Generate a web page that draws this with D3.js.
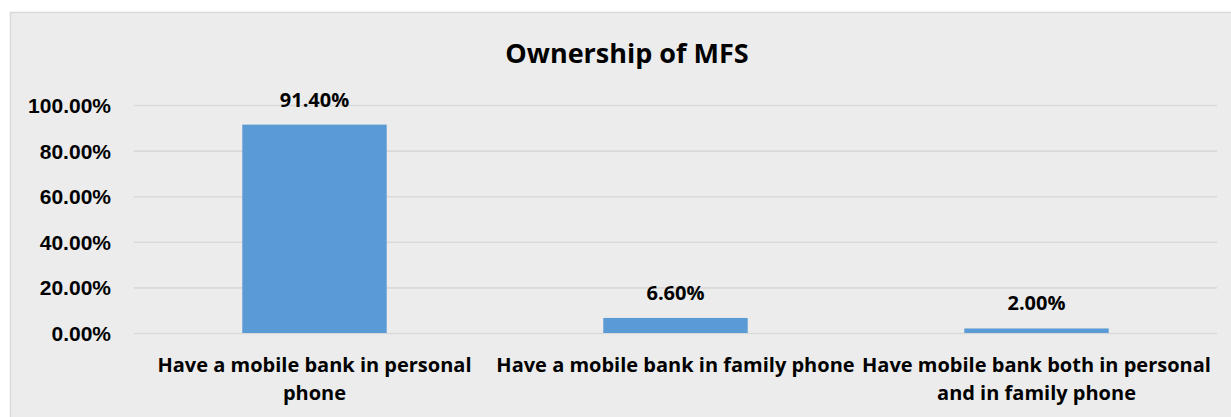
<!DOCTYPE html>
<html>
<head>
<meta charset="utf-8">
<script src="https://cdn.jsdelivr.net/npm/d3@7"></script>
<style>
  html, body { margin: 0; padding: 0; background: #ffffff; }
  svg { display: block; font-family: "Open Sans", "Liberation Sans", sans-serif; }
</style>
</head>
<body>
<svg id="chart" width="1231" height="417"></svg>
<script>
// Ownership of mobile financial services (share of respondents)
const title = "Ownership of MFS";
const categoryLines = [
  ["Have a mobile bank in personal", "phone"],
  ["Have a mobile bank in family phone"],
  ["Have mobile bank both in personal", "and in family phone"]
];
const categories = categoryLines.map(l => l.join(" "));
const values = [0.914, 0.066, 0.02];
const valueLabels = ["91.40%", "6.60%", "2.00%"];
const yTicks = [0, 0.2, 0.4, 0.6, 0.8, 1.0];

const svg = d3.select("#chart");
const W = 1231, H = 417;

// chart area panel
svg.append("rect")
  .attr("x", 10.5).attr("y", 12.5)
  .attr("width", W + 10).attr("height", H + 10)
  .attr("fill", "#ececec")
  .attr("stroke", "#d9d9d9")
  .attr("stroke-width", 1.5);

const plot = { left: 134, right: 1217, top: 105, bottom: 333 };

const x = d3.scaleBand()
  .domain(categories)
  .range([plot.left, plot.right])
  .paddingInner(0.6)
  .paddingOuter(0.3);

const y = d3.scaleLinear()
  .domain([0, 1])
  .range([plot.bottom, plot.top]);

// gridlines + tick labels
const yAxis = d3.axisLeft(y)
  .tickValues(yTicks)
  .tickSize(-(plot.right - plot.left))
  .tickPadding(23)
  .tickFormat(d => (d * 100).toFixed(2) + "%");

const gAxis = svg.append("g")
  .attr("transform", `translate(${plot.left},0)`)
  .call(yAxis);
gAxis.select(".domain").remove();
gAxis.selectAll(".tick line")
  .attr("stroke", "#d9d9d9")
  .attr("stroke-width", 1.6);
gAxis.selectAll(".tick text")
  .attr("fill", "#000")
  .attr("font-size", 21)
  .attr("font-weight", 700)
  .attr("dy", "0.36em");

// bars
svg.append("g").selectAll("rect")
  .data(values)
  .join("rect")
  .attr("x", (d, i) => x(categories[i]))
  .attr("y", d => y(d))
  .attr("width", x.bandwidth())
  .attr("height", d => y(0) - y(d))
  .attr("fill", "#5b9bd5");

// value labels
svg.append("g").selectAll("text")
  .data(values)
  .join("text")
  .attr("x", (d, i) => x(categories[i]) + x.bandwidth() / 2)
  .attr("y", d => y(d) - 18)
  .attr("text-anchor", "middle")
  .attr("font-size", 20)
  .attr("font-weight", 700)
  .attr("fill", "#000")
  .text((d, i) => valueLabels[i]);

// category labels
const cat = svg.append("g").selectAll("text")
  .data(categoryLines)
  .join("text")
  .attr("x", (d, i) => x(categories[i]) + x.bandwidth() / 2)
  .attr("y", 371.5)
  .attr("text-anchor", "middle")
  .attr("font-size", 20)
  .attr("font-weight", 700)
  .attr("fill", "#000");
cat.selectAll("tspan")
  .data(d => d)
  .join("tspan")
  .attr("x", function () { return d3.select(this.parentNode).attr("x"); })
  .attr("dy", (d, i) => i === 0 ? 0 : 28.5)
  .text(d => d);

// title
svg.append("text")
  .attr("x", 627)
  .attr("y", 63)
  .attr("text-anchor", "middle")
  .attr("font-size", 27)
  .attr("font-weight", 700)
  .attr("fill", "#000")
  .text(title);
</script>
</body>
</html>
